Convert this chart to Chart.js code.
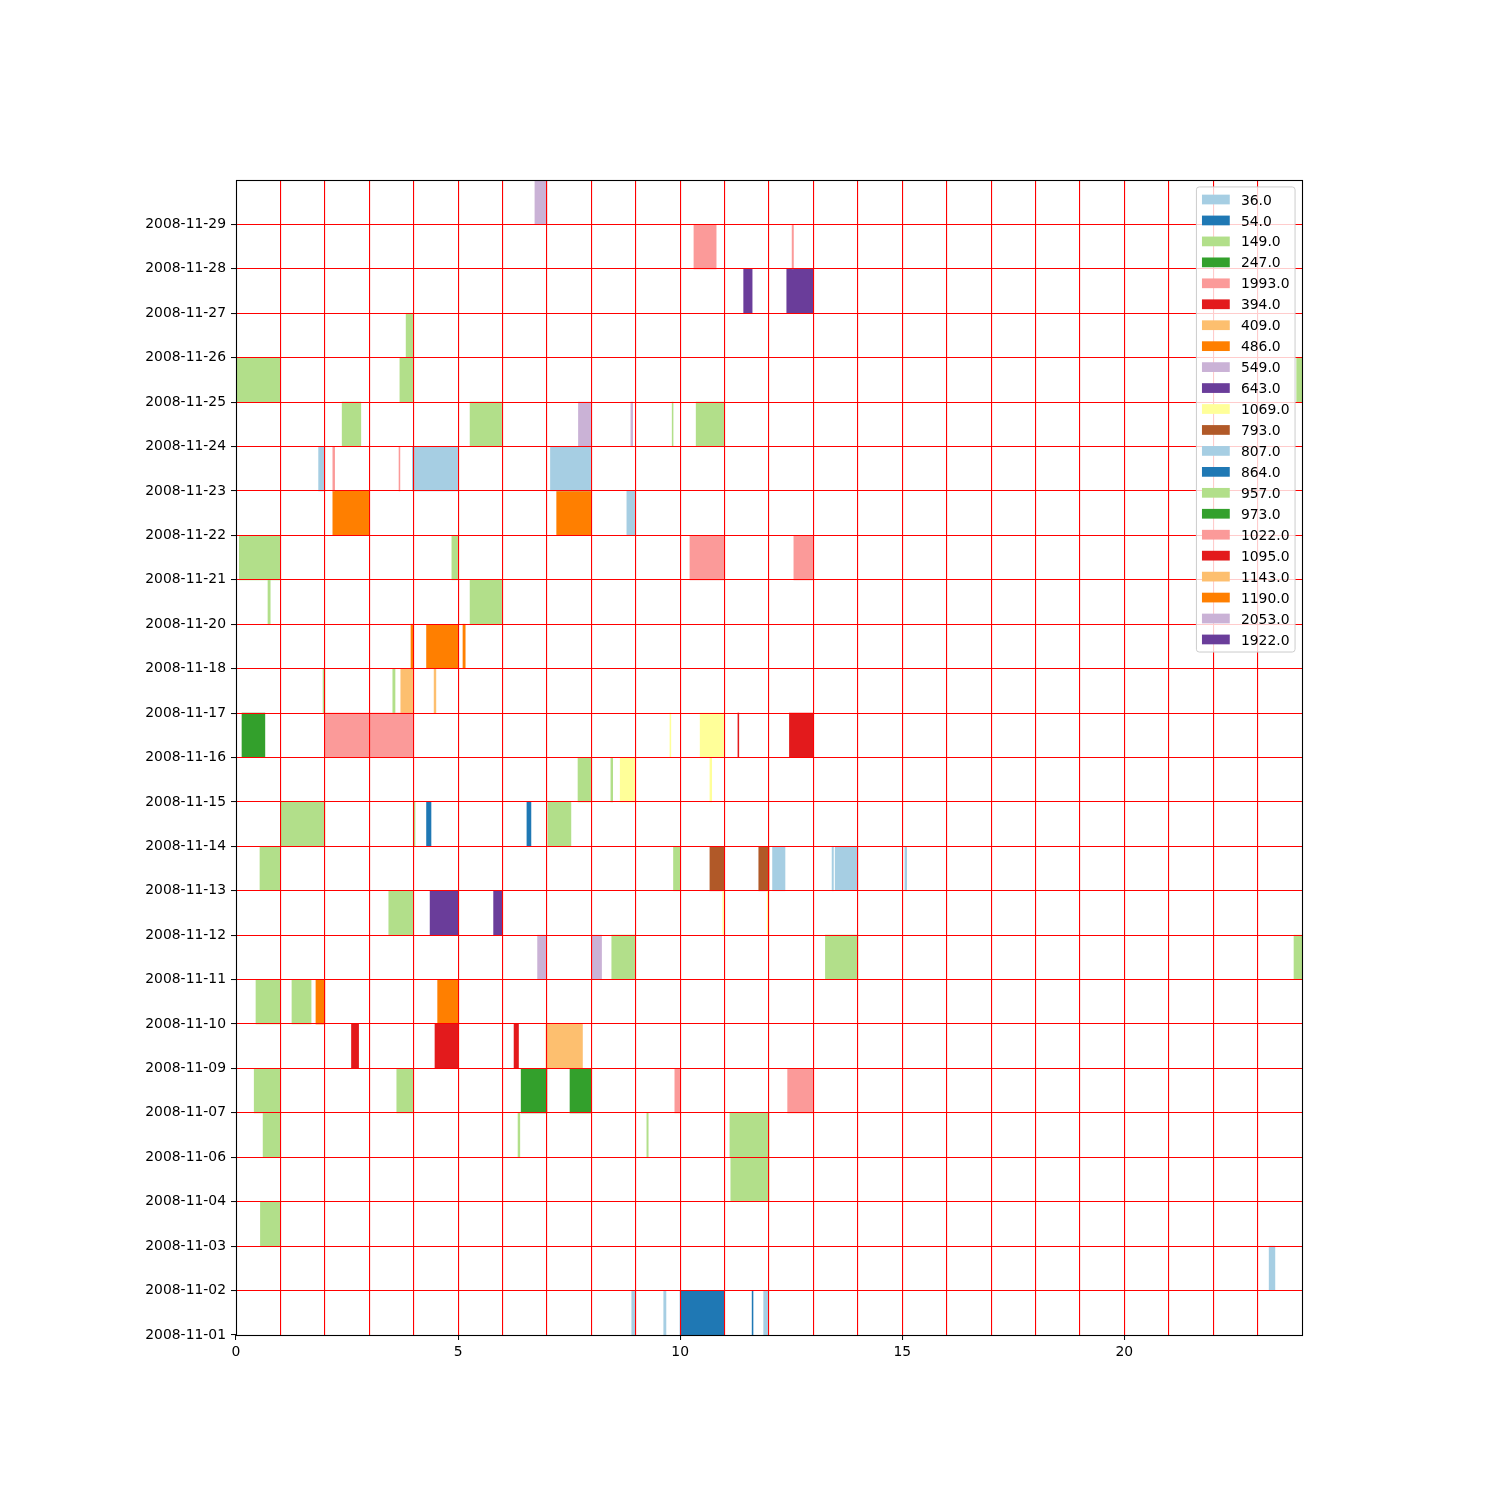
<!DOCTYPE html>
<html><head><meta charset="utf-8">
<script src="https://cdn.jsdelivr.net/npm/chart.js@4.4.1/dist/chart.umd.min.js"></script>
<style>html,body{margin:0;padding:0;background:#fff}canvas{display:block}</style>
</head><body>
<canvas id="c" width="1500" height="1500" style="width:1500px;height:1500px"></canvas>
<script>
const dates = ['2008-11-01','2008-11-02','2008-11-03','2008-11-04','2008-11-06','2008-11-07','2008-11-09','2008-11-10','2008-11-11','2008-11-12','2008-11-13','2008-11-14','2008-11-15','2008-11-16','2008-11-17','2008-11-18','2008-11-20','2008-11-21','2008-11-22','2008-11-23','2008-11-24','2008-11-25','2008-11-26','2008-11-27','2008-11-28','2008-11-29'];
const xTickLabels = [0, 5, 10, 15, 20];

// segments: [date, startHour, endHour]
const s36 = [['2008-11-01',8.91,9.0],['2008-11-01',9.63,9.68],['2008-11-01',11.88,11.99],['2008-11-02',23.26,23.39]];
const s54 = [['2008-11-01',10.0,10.99],['2008-11-01',11.62,11.64]];
const s149 = [['2008-11-03',0.55,0.99],['2008-11-04',11.14,12.0],
  ['2008-11-06',0.61,0.99],['2008-11-06',6.35,6.39],['2008-11-06',9.25,9.28],['2008-11-06',11.12,12.0],
  ['2008-11-07',0.41,0.99],['2008-11-07',3.62,3.98],
  ['2008-11-10',0.45,0.99],['2008-11-10',1.26,1.69],
  ['2008-11-11',8.46,8.98],['2008-11-11',13.27,14.0],['2008-11-11',23.82,24.0],
  ['2008-11-12',3.44,3.98],
  ['2008-11-13',0.54,0.99],['2008-11-13',9.85,10.0]];
const s247 = [['2008-11-07',6.42,7.0],['2008-11-07',7.52,7.99]];
const s1993 = [['2008-11-07',9.88,10.0],['2008-11-07',12.42,12.99],['2008-11-16',2.01,3.98]];
const s394 = [['2008-11-09',2.60,2.76],['2008-11-09',4.48,5.0],['2008-11-09',6.26,6.36]];
const s409 = [['2008-11-09',6.98,7.80]];
const s486 = [['2008-11-10',1.80,2.0],['2008-11-10',4.54,5.0]];
const s549 = [['2008-11-11',6.79,6.98],['2008-11-11',8.01,8.23]];
const s643 = [['2008-11-12',4.37,5.0],['2008-11-12',5.80,5.99]];
const s1069 = [['2008-11-12',10.96,10.99],['2008-11-12',11.96,11.99],['2008-11-15',8.65,8.98],['2008-11-15',10.67,10.71],['2008-11-16',9.77,9.79],['2008-11-16',10.45,10.99]];
const s793 = [['2008-11-13',10.67,10.99],['2008-11-13',11.77,12.0]];
const s807 = [['2008-11-13',12.08,12.36],['2008-11-13',13.42,13.45],['2008-11-13',13.49,14.0],['2008-11-13',15.06,15.1],['2008-11-22',8.80,8.98],['2008-11-23',1.86,2.0],['2008-11-23',3.97,4.99],['2008-11-23',7.08,7.99]];
const s864 = [['2008-11-14',4.29,4.39],['2008-11-14',6.55,6.64]];
const s957 = [['2008-11-14',1.01,2.0],['2008-11-14',3.99,4.03],['2008-11-14',7.02,7.54],
  ['2008-11-15',7.70,7.99],['2008-11-15',8.44,8.48],
  ['2008-11-17',1.96,2.0],['2008-11-17',3.53,3.58],
  ['2008-11-20',0.72,0.77],['2008-11-20',5.27,5.98],
  ['2008-11-21',0.075,0.99],['2008-11-21',4.86,4.99],
  ['2008-11-24',2.39,2.81],['2008-11-24',5.27,5.98],['2008-11-24',9.82,9.84],['2008-11-24',10.36,10.99],
  ['2008-11-25',0,0.99],['2008-11-25',3.69,3.98],['2008-11-25',23.88,24.0],
  ['2008-11-26',3.83,3.98]];
const s973 = [['2008-11-16',0.135,0.65]];
const s1022 = [['2008-11-21',10.22,10.99],['2008-11-21',12.56,12.99],['2008-11-23',2.18,2.22],['2008-11-23',3.67,3.69],['2008-11-28',10.31,10.81],['2008-11-28',12.52,12.55]];
const s1095 = [['2008-11-16',11.3,11.32],['2008-11-16',12.46,12.99]];
const s1143 = [['2008-11-17',3.71,3.98],['2008-11-17',4.46,4.50]];
const s1190 = [['2008-11-18',3.94,3.98],['2008-11-18',4.29,5.0],['2008-11-18',5.11,5.16],['2008-11-22',2.18,3.0],['2008-11-22',7.22,7.99]];
const s2053 = [['2008-11-24',7.71,7.99],['2008-11-24',8.89,8.93],['2008-11-29',6.73,7.0]];
const s1922 = [['2008-11-27',11.43,11.62],['2008-11-27',12.40,12.99]];

const seriesNames = ['36.0','54.0','149.0','247.0','1993.0','394.0','409.0','486.0','549.0','643.0','1069.0','793.0','807.0','864.0','957.0','973.0','1022.0','1095.0','1143.0','1190.0','2053.0','1922.0'];
const seriesData = [s36,s54,s149,s247,s1993,s394,s409,s486,s549,s643,s1069,s793,s807,s864,s957,s973,s1022,s1095,s1143,s1190,s2053,s1922];
const palette = ['#a6cee3','#1f78b4','#b2df8a','#33a02c','#fb9a99','#e31a1c','#fdbf6f','#ff7f00','#cab2d6','#6a3d9a','#ffff99','#b15928'];

const FS = 13.9;
Chart.defaults.font.family = '"DejaVu Sans", sans-serif';
Chart.defaults.font.size = FS;
Chart.defaults.color = '#000';

const datasets = seriesNames.map((name, i) => ({
  label: name,
  data: seriesData[i].map(s => ({ y: s[0], x: [s[1], s[2]] })),
  backgroundColor: palette[i % palette.length],
  borderWidth: 0,
  borderSkipped: false,
  xAxisID: 'x',
  yAxisID: 'y',
  grouped: false,
  categoryPercentage: 1.0,
  barPercentage: 1.0
}));

const framePlugin = {
  id: 'frameLegend',
  afterDraw(chart) {
    const { ctx, chartArea: a } = chart;
    ctx.save();
    ctx.strokeStyle = '#000';
    ctx.lineWidth = 1.1;
    const L = Math.round(a.left - 0.5) + 0.5, R = Math.round(a.right - 0.5) + 0.5;
    const T = Math.round(a.top - 0.5) + 0.5, B = Math.round(a.bottom - 0.5) + 0.5;
    ctx.strokeRect(L, T, R - L, B - T);
    ctx.font = FS + 'px "DejaVu Sans"';
    const items = chart.data.datasets;
    const textW = Math.max(...items.map(d => ctx.measureText(d.label).width));
    const pad = 0.4 * FS, hl = 2 * FS, hh = 0.7 * FS, htp = 0.8 * FS, th = 14, ls = 0.5 * FS;
    const w = pad + hl + htp + textW + pad;
    const h = 2 * pad + items.length * th + (items.length - 1) * ls;
    const right = a.right - 0.5 * FS, top = a.top + 0.5 * FS;
    const left = right - w;
    const r = 0.2 * FS;
    ctx.beginPath();
    ctx.moveTo(left + r, top);
    ctx.lineTo(right - r, top);
    ctx.quadraticCurveTo(right, top, right, top + r);
    ctx.lineTo(right, top + h - r);
    ctx.quadraticCurveTo(right, top + h, right - r, top + h);
    ctx.lineTo(left + r, top + h);
    ctx.quadraticCurveTo(left, top + h, left, top + h - r);
    ctx.lineTo(left, top + r);
    ctx.quadraticCurveTo(left, top, left + r, top);
    ctx.closePath();
    ctx.fillStyle = 'rgba(255,255,255,0.8)';
    ctx.fill();
    ctx.strokeStyle = '#cccccc';
    ctx.lineWidth = 1;
    ctx.stroke();
    items.forEach((d, i) => {
      const cy = top + pad + th / 2 + i * (th + ls);
      ctx.fillStyle = d.backgroundColor;
      ctx.fillRect(left + pad, cy - hh / 2, hl, hh);
      ctx.fillStyle = '#000';
      ctx.textAlign = 'left';
      ctx.textBaseline = 'alphabetic';
      ctx.fillText(d.label, left + pad + hl + htp, cy + 0.365 * FS);
    });
    ctx.restore();
  }
};

const gridColor = (max) => c => (c.tick && (c.tick.value === 0 || c.tick.value === max)) ? 'rgba(0,0,0,0)' : '#ff0000';

new Chart(document.getElementById('c'), {
  type: 'bar',
  data: { labels: dates, datasets },
  options: {
    indexAxis: 'y',
    responsive: false,
    animation: false,
    layout: { padding: { top: 180, right: 198, left: 0, bottom: 0 } },
    plugins: { legend: { display: false }, tooltip: { enabled: false } },
    scales: {
      x: {
        type: 'linear', position: 'bottom', min: 0, max: 24, offset: false,
        border: { display: false },
        grid: {
          z: 1, offset: false,
          color: gridColor(24), lineWidth: 1.1, tickLength: 5,
          tickColor: c => (c.tick && xTickLabels.includes(c.tick.value)) ? '#000' : 'rgba(0,0,0,0)',
          tickWidth: 1
        },
        ticks: {
          stepSize: 1, autoSkip: false, maxRotation: 0, padding: 4,
          callback: v => xTickLabels.includes(v) ? String(v) : ''
        },
        afterFit: s => { s.height = 165; }
      },
      y: {
        type: 'category', display: false, reverse: true, offset: true,
        grid: { display: false }
      },
      yd: {
        type: 'linear', position: 'left', min: 0, max: dates.length, offset: false,
        border: { display: false },
        grid: {
          z: 1, offset: false,
          color: gridColor(dates.length), lineWidth: 1.1, tickLength: 5,
          tickColor: c => (c.tick && c.tick.value < dates.length) ? '#000' : 'rgba(0,0,0,0)',
          tickWidth: 1
        },
        ticks: {
          stepSize: 1, autoSkip: false, padding: 5, maxTicksLimit: 100,
          callback: v => (v < dates.length ? dates[v] : '')
        },
        afterFit: s => { s.width = 236; }
      }
    }
  },
  plugins: [framePlugin]
});
</script>
</body></html>
